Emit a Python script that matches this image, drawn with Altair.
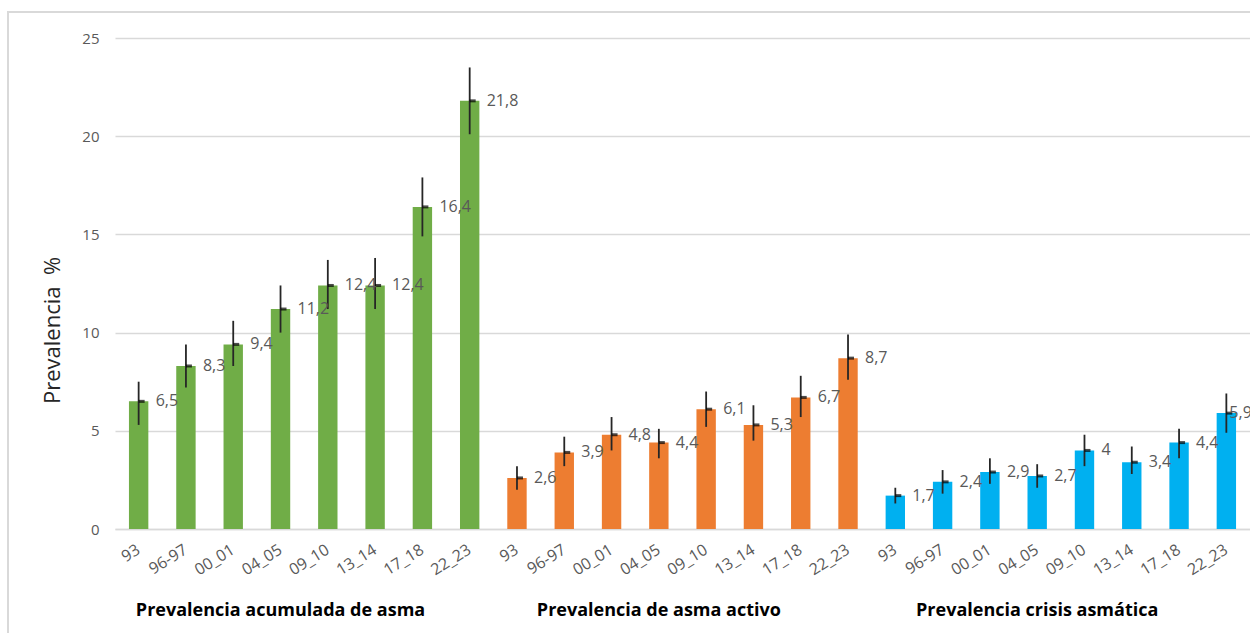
import altair as alt
import pandas as pd

# Survey waves shown under every group
waves = ["93", "96-97", "00_01", "04_05", "09_10", "13_14", "17_18", "22_23"]

# Group titles and bar colours
groups = [
    "Prevalencia acumulada de asma",
    "Prevalencia de asma activo",
    "Prevalencia crisis asmática",
]
colors = ["#70AD47", "#ED7D31", "#00B0F0"]

# Prevalence (%) with 95% confidence limits
acumulada = [6.5, 8.3, 9.4, 11.2, 12.4, 12.4, 16.4, 21.8]
acumulada_lo = [5.3, 7.2, 8.3, 10.0, 11.2, 11.2, 14.9, 20.1]
acumulada_hi = [7.5, 9.4, 10.6, 12.4, 13.7, 13.8, 17.9, 23.5]

activo = [2.6, 3.9, 4.8, 4.4, 6.1, 5.3, 6.7, 8.7]
activo_lo = [2.0, 3.2, 4.0, 3.6, 5.2, 4.5, 5.7, 7.6]
activo_hi = [3.2, 4.7, 5.7, 5.1, 7.0, 6.3, 7.8, 9.9]

crisis = [1.7, 2.4, 2.9, 2.7, 4.0, 3.4, 4.4, 5.9]
crisis_lo = [1.3, 1.8, 2.3, 2.1, 3.2, 2.8, 3.6, 4.9]
crisis_hi = [2.1, 3.0, 3.6, 3.3, 4.8, 4.2, 5.1, 6.9]

series = [
    (acumulada, acumulada_lo, acumulada_hi),
    (activo, activo_lo, activo_hi),
    (crisis, crisis_lo, crisis_hi),
]


def fmt(v):
    s = f"{v:.1f}".replace(".", ",")
    return s[:-2] if s.endswith(",0") else s


rows = []
for gi, (vals, lo, hi) in enumerate(series):
    for wi, w in enumerate(waves):
        rows.append({
            "key": f"{gi}|{w}",
            "grupo": groups[gi],
            "valor": vals[wi],
            "lo": lo[wi],
            "hi": hi[wi],
            "etiqueta": fmt(vals[wi]),
        })
df = pd.DataFrame(rows)
order = list(df["key"])
last_key = order[-1]

titles = pd.DataFrame({
    "key": [f"{gi}|04_05" for gi in range(3)],
    "grupo": groups,
})

W, H = 1135, 491
FONT = "Open Sans"

x = alt.X(
    "key:N",
    sort=order,
    scale=alt.Scale(domain=order, paddingInner=0.59, paddingOuter=0.295),
    axis=alt.Axis(
        title=None,
        labelExpr="split(datum.label, '|')[1]",
        labelAngle=-32,
        labelAlign="right",
        labelBaseline="middle",
        labelPadding=19,
        labelFontSize=16,
        labelColor="#595959",
        labelFont=FONT,
        ticks=False,
        domainColor="#d9d9d9",
        domainWidth=1.5,
        grid=False,
    ),
)
y = alt.Y(
    "valor:Q",
    scale=alt.Scale(domain=[0, 25], nice=False),
    axis=alt.Axis(
        title="Prevalencia\u00a0 %",
        titleFont=FONT,
        titleFontSize=22,
        titleFontWeight="normal",
        titleColor="#262626",
        titleAngle=-90,
        titleX=-63,
        titleY=292,
        titleAlign="center",
        titleBaseline="middle",
        values=[0, 5, 10, 15, 20, 25],
        labelFontSize=15,
        labelColor="#595959",
        labelFont=FONT,
        labelPadding=16,
        ticks=False,
        domain=False,
        gridColor="#d9d9d9",
        gridWidth=1.5,
    ),
)

base = alt.Chart(df)

frame = base.mark_rect(fill=None, stroke="#d9d9d9", strokeWidth=1.5).encode(
    x=alt.value(-107), x2=alt.value(W + 20),
    y=alt.value(-26), y2=alt.value(H + 140),
)

bars = base.mark_bar().encode(
    x=x,
    y=y,
    color=alt.Color("grupo:N", scale=alt.Scale(domain=groups, range=colors), legend=None),
)

errors = base.mark_rule(color="#262626", strokeWidth=1.8).encode(
    x=alt.X("key:N", sort=order),
    y="lo:Q",
    y2="hi:Q",
)

markers = base.mark_tick(color="#000000", size=6, thickness=3, xOffset=3).encode(
    x=alt.X("key:N", sort=order),
    y="valor:Q",
)

label_style = dict(align="left", baseline="middle", fontSize=16, font=FONT, color="#595959")

labels = base.transform_filter(alt.datum.key != last_key).mark_text(
    dx=17, **label_style
).encode(
    x=alt.X("key:N", sort=order),
    y="valor:Q",
    text="etiqueta:N",
)

# the rightmost label is pulled back over its bar so it stays inside the frame
last_label = base.transform_filter(alt.datum.key == last_key).mark_text(
    dx=3, **label_style
).encode(
    x=alt.X("key:N", sort=order),
    y="valor:Q",
    text="etiqueta:N",
)

group_titles = alt.Chart(titles).mark_text(
    align="center", baseline="middle", dx=0, fontSize=18, fontWeight="bold",
    font=FONT, color="#000000",
).encode(
    x=alt.X("key:N", sort=order),
    y=alt.value(573),
    text="grupo:N",
)

chart = alt.layer(
    frame, bars, errors, markers, labels, last_label, group_titles
).properties(
    width=W,
    height=H,
    padding={"left": 115, "top": 38, "right": 0, "bottom": 104},
    autosize=alt.AutoSizeParams(type="none"),
    background="#ffffff",
).configure_view(stroke=None)

chart.save("out.html", embed_options={"renderer": "svg", "actions": False})
